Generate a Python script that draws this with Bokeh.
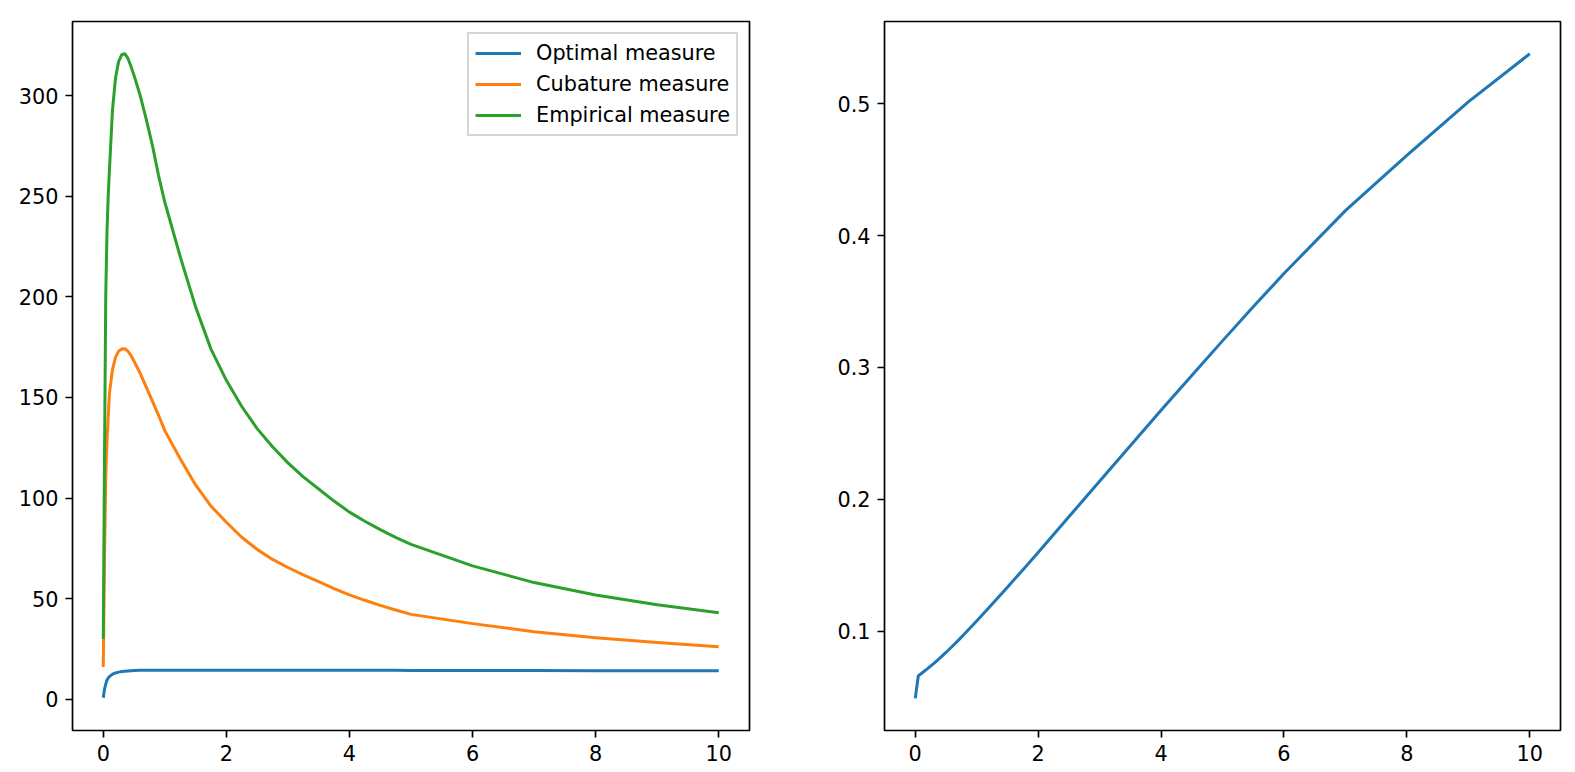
from bokeh.plotting import figure
from bokeh.layouts import row
from bokeh.models import Range1d, FixedTicker
from bokeh.embed import file_html
from bokeh.resources import INLINE

# ---- data ----
t_left = [0, 0.02, 0.04, 0.06, 0.08, 0.1, 0.15, 0.2, 0.25, 0.3, 0.35, 0.4, 0.45, 0.5, 0.6,
          0.7, 0.8, 0.9, 1.0, 1.25, 1.5, 1.75, 2.0, 2.25, 2.5, 2.75, 3.0, 3.25, 3.5,
          3.75, 4.0, 4.25, 4.5, 4.75, 5, 6, 7, 8, 9, 10]
optimal = [0.8, 5.0, 7.5, 9.6, 10.6, 11.3, 12.5, 13.1, 13.5, 13.8, 13.95, 14.1, 14.2, 14.3, 14.4,
           14.45, 14.5, 14.5, 14.5, 14.5, 14.5, 14.5, 14.5, 14.5, 14.5, 14.5, 14.45, 14.45,
           14.45, 14.45, 14.4, 14.4, 14.4, 14.4, 14.35, 14.3, 14.3, 14.25, 14.2, 14.2]
cubature = [16, 70, 110, 128, 140, 152, 164, 170, 173, 174.1, 174.2, 173, 170.8, 168, 162,
            155, 148, 141, 133.5, 119.5, 106.5, 96, 88, 80.5, 74.5, 69.5, 65.5, 61.8, 58.5,
            55, 51.9, 49.2, 46.7, 44.4, 42.2, 37.6, 33.6, 30.6, 28.2, 26.1]
empirical = [30, 120, 200, 232, 250, 263, 293, 309, 317, 320.3, 320.8, 318.5, 314.5, 310, 300,
             288, 275, 260, 247, 220, 195, 174, 158.5, 145.5, 134.5, 125.5, 117.5, 110.5,
             104.5, 98.5, 93, 88.5, 84.3, 80.5, 77, 66.3, 58, 51.8, 47, 43]

t_right = [0, 0.05, 0.1, 0.2, 0.3, 0.4, 0.5, 0.6, 0.7, 0.8, 0.9, 1.0, 1.25, 1.5, 1.75,
           2.0, 2.5, 3.0, 3.5, 4.0, 4.5, 5, 5.5, 6, 7, 8, 9, 10]
ratio = [0.049, 0.066, 0.0678, 0.0715, 0.0754, 0.0795, 0.0838, 0.0883, 0.093, 0.0978,
         0.1027, 0.1077, 0.1204, 0.1333, 0.1464, 0.1597, 0.1867, 0.2137, 0.2407, 0.2675,
         0.294, 0.3202, 0.346, 0.3713, 0.419, 0.461, 0.5015, 0.538]

x_ticks = [0, 2, 4, 6, 8, 10]
y_ticks_left = [0, 50, 100, 150, 200, 250, 300]
y_ticks_right = [0.1, 0.2, 0.3, 0.4, 0.5]

series_names = ["Optimal measure", "Cubature measure", "Empirical measure"]
colors = ["#1f77b4", "#ff7f0e", "#2ca02c"]

FONT = "DejaVu Sans"
FS = "20.8px"
LW = 3.0


def style(p, yt):
    p.grid.visible = False
    p.outline_line_color = "black"
    p.outline_line_width = 1.7
    p.background_fill_color = "white"
    p.border_fill_color = "white"
    p.xaxis.ticker = FixedTicker(ticks=x_ticks)
    p.yaxis.ticker = FixedTicker(ticks=yt)
    for ax in (p.xaxis[0], p.yaxis[0]):
        ax.axis_line_color = None
        ax.major_tick_in = 0
        ax.major_tick_out = 7
        ax.major_tick_line_width = 1.7
        ax.major_tick_line_color = "black"
        ax.minor_tick_line_color = None
        ax.major_label_text_font = FONT
        ax.major_label_text_font_size = FS
        ax.major_label_text_color = "black"
        ax.major_label_standoff = 7


p1 = figure(width=769, height=770, output_backend="svg", toolbar_location=None,
            x_range=Range1d(-0.5, 10.5), y_range=Range1d(-15.5, 336.8),
            min_border_left=72, min_border_right=20, min_border_top=21, min_border_bottom=40)
for ys, name, c in zip([optimal, cubature, empirical], series_names, colors):
    p1.line(t_left, ys, line_color=c, line_width=LW, legend_label=name, line_join="round")
style(p1, y_ticks_left)
lg = p1.legend[0]
lg.location = "top_right"
lg.margin = 11
lg.padding = 6
lg.spacing = 5
lg.label_height = 26
lg.glyph_height = 26
lg.glyph_width = 46
lg.label_standoff = 15
lg.label_text_font = FONT
lg.label_text_font_size = FS
lg.label_text_color = "black"
lg.border_line_color = "#cccccc"
lg.border_line_alpha = 0.8
lg.border_line_width = 2
lg.background_fill_alpha = 0.8

p2 = figure(width=798, height=770, output_backend="svg", toolbar_location=None,
            x_range=Range1d(-0.5, 10.5), y_range=Range1d(0.0246, 0.5625),
            min_border_left=115, min_border_right=7, min_border_top=21, min_border_bottom=40)
p2.line(t_right, ratio, line_color=colors[0], line_width=LW, line_join="round")
style(p2, y_ticks_right)

layout = row(p1, p2)
open("out.html", "w").write(file_html(layout, INLINE))
